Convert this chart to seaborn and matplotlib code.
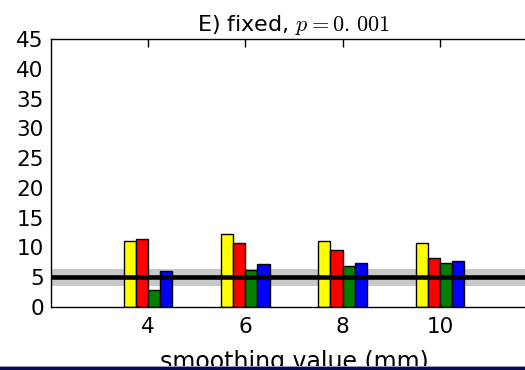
import matplotlib
matplotlib.use("Agg")
import matplotlib.pyplot as plt
import seaborn as sns
import pandas as pd
from matplotlib.patches import Rectangle

# Smoothing kernel widths (mm) and false-positive counts per method
smoothing = [4, 6, 8, 10]
methods = ["m1", "m2", "m3", "m4"]
counts_m1 = [11.0, 12.2, 11.0, 10.7]
counts_m2 = [11.35, 10.8, 9.5, 8.2]
counts_m3 = [2.9, 6.2, 6.95, 7.45]
counts_m4 = [6.05, 7.25, 7.45, 7.7]
bar_colors = ["#ffff00", "#ff0000", "#008000", "#0000ff"]

# Expected rate and its interval
expected = 5.0
band_low, band_high = 3.6, 6.4

rows = []
for m, vals in zip(methods, [counts_m1, counts_m2, counts_m3, counts_m4]):
    for s, v in zip(smoothing, vals):
        rows.append({"smoothing": s, "method": m, "count": v})
df = pd.DataFrame(rows)

sns.set_style("white")
plt.rcParams["font.family"] = ["DejaVu Sans"]
plt.rcParams["mathtext.fontset"] = "cm"
plt.rcParams["text.color"] = "black"
plt.rcParams["axes.labelcolor"] = "black"

fig = plt.figure(figsize=(5.25, 3.7), dpi=100)
ax = fig.add_axes([0.0966, 0.1703, 0.9266, 0.7243])

ax.axhspan(band_low, band_high, color="#c8c8c8", lw=0, zorder=0)

sns.barplot(data=df, x="smoothing", y="count", hue="method",
            palette=bar_colors, native_scale=True, width=0.5, gap=0,
            edgecolor="black", linewidth=1.0, saturation=1,
            errorbar=None, legend=False, ax=ax, zorder=2)

ax.axhline(expected, color="black", lw=3.3, zorder=5)

ax.set_xlim(2, 12)
ax.set_ylim(0, 45)
ax.set_xticks(smoothing)
ax.set_xticklabels([str(s) for s in smoothing])
ax.set_yticks(range(0, 50, 5))
ax.tick_params(axis="both", direction="in", length=5.5, width=1,
               labelsize=15.5, top=True, right=True, color="black",
               labelcolor="black")
ax.tick_params(axis="x", pad=7)
ax.tick_params(axis="y", pad=5)
for sp in ax.spines.values():
    sp.set_visible(True)
    sp.set_color("black")
    sp.set_linewidth(1.0)

ax.set_xlabel("smoothing value (mm)", fontsize=17, labelpad=9.5, color="black")
ax.set_ylabel("")
ax.set_title(r"E) fixed, $p=0.\,001$", fontsize=16, pad=5.5, color="black")

# Dark border along the bottom edge of the figure
fig.patches.append(Rectangle((0, 0), 1, 3.0 / 370, transform=fig.transFigure,
                             facecolor="#0a0a50", edgecolor="none", zorder=10))
fig.patches.append(Rectangle((0, 3.0 / 370), 1, 1.0 / 370, transform=fig.transFigure,
                             facecolor="#9a9ab8", edgecolor="none", zorder=10))

fig.savefig("out.png", dpi=100, facecolor="white")
